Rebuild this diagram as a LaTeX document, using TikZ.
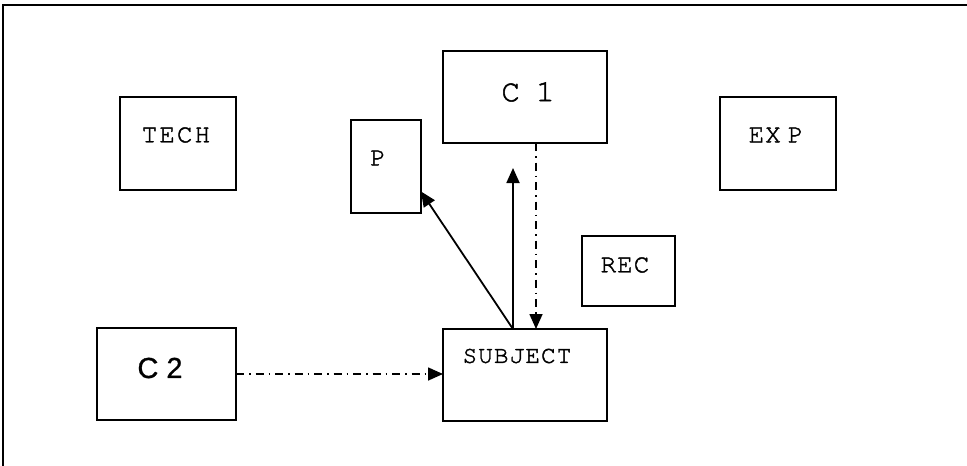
\documentclass[tikz,border=0pt]{standalone}
\usepackage{fontspec}
\newfontfamily\sansf[FakeBold=0.8]{Liberation Sans}
\newfontfamily\courf[FakeBold=1.6]{TeX Gyre Cursor}
\usetikzlibrary{arrows.meta}
\makeatletter
\newcommand\spreadtxt[2]{\def\spr@k{#1}\@tfor\spr@c:=#2\do{\spr@c\kern\spr@k}\unkern}
\makeatother
\begin{document}
\begin{tikzpicture}[x=1pt,y=-1pt,
  box/.style={draw,line width=1.9pt,inner sep=0pt,outer sep=0pt},
  txt/.style={inner sep=0pt,font=\courf\fontsize{26}{26}\selectfont},
  solidarrow/.style={line width=1.8pt,-{Triangle[length=15pt,width=13pt]}},
  dasharrow/.style={line width=1.6pt,dash pattern=on 8pt off 5pt on 1.5pt off 5pt,-{Triangle[length=15pt,width=13pt]}}]
\useasboundingbox (0,0) rectangle (967,466);
\clip (0,0) rectangle (967,466);
\draw[line width=1.9pt] (3,5) rectangle (1000,500);
% boxes
\node[box,minimum width=116,minimum height=93] (tech) at (178,143.5) {};
\node[box,minimum width=116,minimum height=93] (exp) at (778,143.5) {};
\node[box,minimum width=164,minimum height=92] (c1) at (525,97) {};
\node[box,minimum width=70,minimum height=93] (p) at (386,166.5) {};
\node[box,minimum width=93,minimum height=70] (rec) at (628.5,271) {};
\node[box,minimum width=139,minimum height=92] (c2) at (166.5,374) {};
\node[box,minimum width=164,minimum height=92] (subj) at (525,375) {};
% labels
\node[txt] (techl) at (176,135) {\spreadtxt{2pt}{TECH}};
\node[txt] (expl) at (776,135) {E\kern1pt X\kern7pt P};
\node[txt,font=\courf\fontsize{31}{31}\selectfont] (c1l) at (528,92) {C\kern16pt 1};
\node[txt] (pl) at (378,158) {P};
\node[txt] (recl) at (625,265) {\spreadtxt{1pt}{REC}};
\node[txt,font=\sansf\fontsize{29}{29}\selectfont] (c2l) at (160,368) {C\kern8pt 2};
\node[txt,font=\courf\fontsize{24.5}{24.5}\selectfont] (subjl) at (517,356) {\spreadtxt{1pt}{SUBJECT}};
% connectors
\coordinate (uptip) at (513,168);
\draw[solidarrow] ([xshift=-12pt]subj.north) -- (uptip);
\draw[solidarrow] ([xshift=-12pt]subj.north) -- ([yshift=-25pt]p.east);
\draw[dasharrow] ([xshift=11pt]c1.south) -- ([xshift=11pt]subj.north);
\draw[dasharrow] (c2.east) -- (c2.east -| subj.west);
\end{tikzpicture}
\end{document}
